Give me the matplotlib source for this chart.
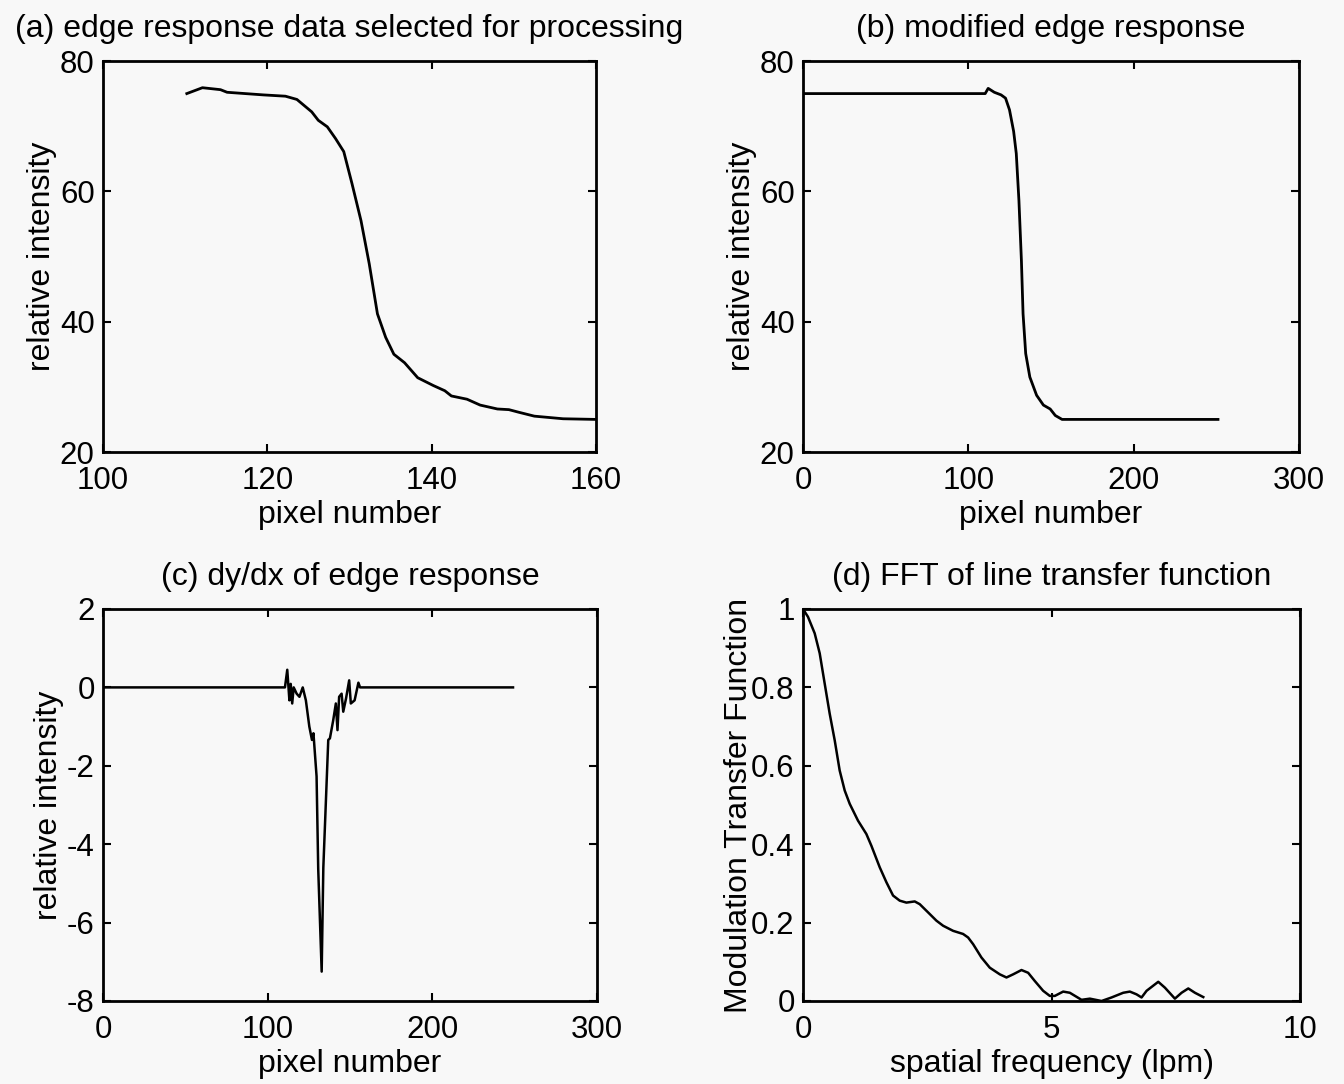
import numpy as np
import matplotlib.pyplot as plt
from matplotlib.ticker import FormatStrFormatter

plt.rcParams['font.family'] = ['Liberation Sans', 'DejaVu Sans']
plt.rcParams['axes.unicode_minus'] = False

# (a) edge response, selected pixels
a_x = [110.2, 112.1, 114.3, 115.1, 119.5, 122.2, 123.6, 125.4, 126.2, 127.3, 128.3,
       129.3, 130.3, 131.4, 132.4, 133.4, 134.4, 135.4, 136.7, 138.3, 140.2, 141.6,
       142.4, 144.3, 145.9, 148.0, 149.4, 150.6, 152.5, 156.0, 160.0]
a_y = [75.0, 75.9, 75.6, 75.2, 74.8, 74.6, 74.1, 72.2, 70.9, 69.9, 68.1,
       66.1, 61.2, 55.5, 48.9, 41.2, 37.6, 35.0, 33.7, 31.4, 30.2, 29.4,
       28.6, 28.1, 27.2, 26.6, 26.5, 26.1, 25.5, 25.1, 25.0]

# (b) modified edge response
b_x = [0, 110.2, 112.0, 115.7, 119.8, 122.5, 124.9, 127.4, 129.0, 130.6, 132.1,
       133.1, 134.7, 137.2, 141.3, 145.4, 149.5, 152.6, 156.7, 251]
b_y = [75.0, 75.0, 75.8, 75.2, 74.8, 74.3, 72.5, 69.2, 65.8, 58.6, 49.4,
       41.2, 35.1, 31.5, 28.7, 27.2, 26.6, 25.6, 25.0, 25.0]

# (c) dy/dx of edge response
c_x = [0, 110.5, 111.9, 113.2, 114.0, 114.9, 115.8, 117.6, 119.3, 121.3, 123.2,
       125.3, 126.9, 127.8, 129.7, 130.7, 132.8, 133.8, 135.4, 136.8, 137.8,
       139.8, 141.4, 142.4, 143.4, 144.9, 145.9, 147.6, 149.5, 150.5, 152.8,
       155.1, 156.1, 249]
c_y = [0, 0, 0.45, -0.33, 0.09, -0.41, 0.0, -0.16, -0.24, 0.0, -0.33,
       -1.0, -1.34, -1.17, -2.27, -4.63, -7.25, -4.6, -2.86, -1.34, -1.3,
       -0.84, -0.41, -1.09, -0.24, -0.16, -0.62, -0.28, 0.18, -0.41, -0.33,
       0.12, 0.0, 0.0]

# (d) MTF
d_x = [0, 0.10, 0.235, 0.336, 0.436, 0.537, 0.638, 0.738, 0.839, 0.940, 1.107,
       1.275, 1.376, 1.544, 1.678, 1.812, 1.946, 2.080, 2.248, 2.349, 2.517,
       2.684, 2.819, 3.020, 3.221, 3.322, 3.423, 3.590, 3.758, 3.960, 4.094,
       4.228, 4.396, 4.530, 4.664, 4.832, 4.966, 5.067, 5.235, 5.369, 5.604,
       5.772, 6.007, 6.208, 6.443, 6.577, 6.711, 6.812, 6.913, 7.148, 7.282,
       7.483, 7.617, 7.752, 7.886, 8.054]
d_y = [1.0, 0.980, 0.938, 0.887, 0.810, 0.733, 0.665, 0.588, 0.537, 0.503, 0.460,
       0.426, 0.396, 0.341, 0.303, 0.269, 0.256, 0.251, 0.254, 0.247, 0.226,
       0.205, 0.192, 0.179, 0.171, 0.162, 0.145, 0.111, 0.085, 0.068, 0.060,
       0.068, 0.079, 0.072, 0.051, 0.026, 0.013, 0.013, 0.024, 0.021, 0.003,
       0.006, 0.0, 0.009, 0.021, 0.024, 0.017, 0.009, 0.026, 0.049, 0.034,
       0.006, 0.021, 0.032, 0.021, 0.010]

bg = '#f8f8f8'
fig = plt.figure(figsize=(13.44, 10.84), dpi=100, facecolor=bg)

W, H = 1344, 1084
def box(l, r, t, b):
    return [l / W, 1 - b / H, (r - l) / W, (b - t) / H]

ax_a = fig.add_axes(box(103, 596, 61, 452))
ax_b = fig.add_axes(box(803, 1299, 61, 452))
ax_c = fig.add_axes(box(103, 597, 609, 1001))
ax_d = fig.add_axes(box(803, 1300, 609, 1001))

ax_a.plot(a_x, a_y, color='black', lw=2)
ax_a.set(xlim=(100, 160), ylim=(20, 80), xticks=[100, 120, 140, 160], yticks=[20, 40, 60, 80])
ax_a.set_title('(a) edge response data selected for processing', fontsize=23, pad=17)
ax_a.set_xlabel('pixel number')
ax_a.set_ylabel('relative intensity')

ax_b.plot(b_x, b_y, color='black', lw=2)
ax_b.set(xlim=(0, 300), ylim=(20, 80), xticks=[0, 100, 200, 300], yticks=[20, 40, 60, 80])
ax_b.set_title('(b) modified edge response', fontsize=23, pad=17)
ax_b.set_xlabel('pixel number')
ax_b.set_ylabel('relative intensity')

ax_c.plot(c_x, c_y, color='black', lw=1.8)
ax_c.set(xlim=(0, 300), ylim=(-8, 2), xticks=[0, 100, 200, 300], yticks=[-8, -6, -4, -2, 0, 2])
ax_c.set_title('(c) dy/dx of edge response', fontsize=23, pad=17)
ax_c.set_xlabel('pixel number')
ax_c.set_ylabel('relative intensity')

ax_d.plot(d_x, d_y, color='black', lw=1.8)
ax_d.set(xlim=(0, 10), ylim=(0, 1), xticks=[0, 5, 10], yticks=[0, 0.2, 0.4, 0.6, 0.8, 1])
ax_d.yaxis.set_major_formatter(FormatStrFormatter('%g'))
ax_d.set_title('(d) FFT of line transfer function', fontsize=23, pad=17)
ax_d.set_xlabel('spatial frequency (lpm)')
ax_d.set_ylabel('Modulation Transfer Function')

for ax in (ax_a, ax_b, ax_c, ax_d):
    ax.set_facecolor(bg)
    for s in ax.spines.values():
        s.set_linewidth(2)
    ax.tick_params(direction='in', top=True, right=True, length=6, width=1.5,
                   labelsize=22.5)
    ax.tick_params(axis='x', pad=10)
    ax.tick_params(axis='y', pad=6)
    ax.xaxis.label.set_fontsize(23)
    ax.yaxis.label.set_fontsize(23)
    ax.xaxis.labelpad = 3
    ax.yaxis.labelpad = 2

ax_d.yaxis.labelpad = -2

fig.savefig('out.png', dpi=100, facecolor=bg)
